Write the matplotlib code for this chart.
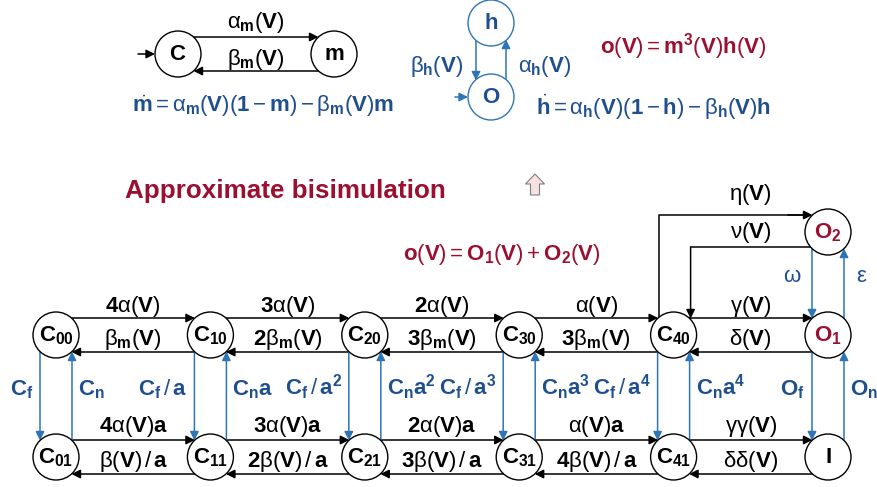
import numpy as np
import matplotlib.pyplot as plt
from matplotlib.patches import Circle, FancyArrow

plt.rcParams['font.family'] = ['Liberation Sans', 'DejaVu Sans']
plt.rcParams['mathtext.fontset'] = 'custom'
plt.rcParams['mathtext.rm'] = 'Liberation Sans'
plt.rcParams['mathtext.it'] = 'Liberation Sans'
plt.rcParams['mathtext.bf'] = 'Liberation Sans:bold'
plt.rcParams['mathtext.sf'] = 'Liberation Sans'

BLUE = '#1f4f8f'      # blue text
LBLUE = '#2e75b6'     # blue arrows
RED = '#9b1030'
FS = 16

# chain states: top row (open m-gates, h open) and bottom row
top_states = [r'$\mathbf{C}_{\mathbf{00}}$', r'$\mathbf{C}_{\mathbf{10}}$', r'$\mathbf{C}_{\mathbf{20}}$',
              r'$\mathbf{C}_{\mathbf{30}}$', r'$\mathbf{C}_{\mathbf{40}}$', r'$\mathbf{O}_{\mathbf{1}}$']
bottom_states = [r'$\mathbf{C}_{\mathbf{01}}$', r'$\mathbf{C}_{\mathbf{11}}$', r'$\mathbf{C}_{\mathbf{21}}$',
                 r'$\mathbf{C}_{\mathbf{31}}$', r'$\mathbf{C}_{\mathbf{41}}$', r'$\mathbf{I}$']
o2_state = r'$\mathbf{O}_{\mathbf{2}}$'

# rates on the horizontal transitions
top_fwd = [r'$\mathbf{4}\alpha(\mathbf{V})$', r'$\mathbf{3}\alpha(\mathbf{V})$', r'$\mathbf{2}\alpha(\mathbf{V})$',
           r'$\alpha(\mathbf{V})$', r'$\gamma(\mathbf{V})$']
top_back = [r'$\beta_{\mathbf{m}}(\mathbf{V})$', r'$\mathbf{2}\beta_{\mathbf{m}}(\mathbf{V})$',
            r'$\mathbf{3}\beta_{\mathbf{m}}(\mathbf{V})$', r'$\mathbf{3}\beta_{\mathbf{m}}(\mathbf{V})$',
            r'$\delta(\mathbf{V})$']
bot_fwd = [r'$\mathbf{4}\alpha(\mathbf{V})\mathbf{a}$', r'$\mathbf{3}\alpha(\mathbf{V})\mathbf{a}$',
           r'$\mathbf{2}\alpha(\mathbf{V})\mathbf{a}$', r'$\alpha(\mathbf{V})\mathbf{a}$', r'$\gamma\gamma(\mathbf{V})$']
bot_back = [r'$\beta(\mathbf{V})\,/\,\mathbf{a}$', r'$\mathbf{2}\beta(\mathbf{V})\,/\,\mathbf{a}$',
            r'$\mathbf{3}\beta(\mathbf{V})\,/\,\mathbf{a}$', r'$\mathbf{4}\beta(\mathbf{V})\,/\,\mathbf{a}$',
            r'$\delta\delta(\mathbf{V})$']

# rates on the vertical transitions
down_lbl = [r'$\mathbf{C}_{\mathbf{f}}$', r'$\mathbf{C}_{\mathbf{f}}\,/\,\mathbf{a}$',
            r'$\mathbf{C}_{\mathbf{f}}\,/\,\mathbf{a}^{\mathbf{2}}$', r'$\mathbf{C}_{\mathbf{f}}\,/\,\mathbf{a}^{\mathbf{3}}$',
            r'$\mathbf{C}_{\mathbf{f}}\,/\,\mathbf{a}^{\mathbf{4}}$', r'$\mathbf{O}_{\mathbf{f}}$']
up_lbl = [r'$\mathbf{C}_{\mathbf{n}}$', r'$\mathbf{C}_{\mathbf{n}}\mathbf{a}$', r'$\mathbf{C}_{\mathbf{n}}\mathbf{a}^{\mathbf{2}}$',
          r'$\mathbf{C}_{\mathbf{n}}\mathbf{a}^{\mathbf{3}}$', r'$\mathbf{C}_{\mathbf{n}}\mathbf{a}^{\mathbf{4}}$',
          r'$\mathbf{O}_{\mathbf{n}}$']

R = 23
X0, DX = 56, 154.4
Y_TOP, Y_BOT, Y_O2 = 335, 457, 232
OFF = 17  # offset of paired arrows from node centre

fig = plt.figure(figsize=(8.77, 4.87), dpi=100)
ax = fig.add_axes([0, 0, 1, 1])
ax.set_xlim(0, 877)
ax.set_ylim(487, 0)
ax.axis('off')


def node(x, y, label, ec='black', tc='black'):
    ax.add_patch(Circle((x, y), R, fc='white', ec=ec, lw=1.0, zorder=3))
    ax.text(x, y + 6, label, ha='center', va='baseline', fontsize=FS, color=tc, zorder=4)


def arrow(x0, y0, x1, y1, color='black'):
    ax.annotate('', xy=(x1, y1), xytext=(x0, y0),
                arrowprops=dict(arrowstyle='-|>', color=color, lw=1.1, mutation_scale=13,
                                shrinkA=0, shrinkB=0))


def label(x, y, s, color='black', ha='center', fs=FS):
    ax.text(x, y, s, ha=ha, va='baseline', fontsize=fs, color=color)


e = np.sqrt(R**2 - OFF**2)
xs = [X0 + i * DX for i in range(len(top_states))]

# horizontal transitions
for i in range(len(top_fwd)):
    xa, xb = xs[i], xs[i + 1]
    xm = (xa + xb) / 2
    arrow(xa + e, Y_TOP - OFF, xb - e, Y_TOP - OFF)
    arrow(xb - e, Y_TOP + OFF, xa + e, Y_TOP + OFF)
    arrow(xa + e, Y_BOT - OFF, xb - e, Y_BOT - OFF)
    arrow(xb - e, Y_BOT + OFF, xa + e, Y_BOT + OFF)
    label(xm, Y_TOP - 23, top_fwd[i])
    label(xm, Y_TOP + 10, top_back[i])
    label(xm, Y_BOT - 25, bot_fwd[i])
    label(xm, Y_BOT + 10, bot_back[i])

# vertical transitions
ev = np.sqrt(R**2 - 16**2)
for i, x in enumerate(xs):
    arrow(x - 16, Y_TOP + ev, x - 16, Y_BOT - ev, LBLUE)
    arrow(x + 16, Y_BOT - ev, x + 16, Y_TOP + ev, LBLUE)
    label(x - 23, 395, down_lbl[i], BLUE, ha='right')
    label(x + 22, 395, up_lbl[i], BLUE, ha='left')

# O1 <-> O2
xo = xs[-1]
arrow(xo - 16, Y_O2 + ev, xo - 16, Y_TOP - ev, LBLUE)
arrow(xo + 16, Y_TOP - ev, xo + 16, Y_O2 + ev, LBLUE)
label(xo - 36, 282, r'$\omega$', BLUE)
label(xo + 34, 282, r'$\varepsilon$', BLUE)

# C40 <-> O2 (routed lines)
x4 = xs[4]
ax.plot([x4 - 15, x4 - 15, xo - R], [Y_TOP - ev, Y_O2 - 17, Y_O2 - 17], color='black', lw=1.1)
arrow(xo - 40, Y_O2 - 17, xo - e, Y_O2 - 17)
ax.plot([xo - e, x4 + 17], [Y_O2 + 15, Y_O2 + 15], color='black', lw=1.1)
arrow(x4 + 17, Y_O2 + 15, x4 + 17, Y_TOP - ev)
label((x4 + xo) / 2, 200, r'$\eta(\mathbf{V})$')
label((x4 + xo) / 2, 238, r'$\nu(\mathbf{V})$')

for i, x in enumerate(xs):
    tc = RED if i == len(xs) - 1 else 'black'
    node(x, Y_TOP, top_states[i], tc=tc)
    node(x, Y_BOT, bottom_states[i])
node(xo, Y_O2, o2_state, tc=RED)

# small m-gate diagram
cx, mx, gy = 178, 334, 54
arrow(cx + e, gy - OFF, mx - e, gy - OFF)
arrow(mx - e, gy + OFF, cx + e, gy + OFF)
arrow(138, gy, cx - R, gy)
node(cx, gy, r'$\mathbf{C}$')
node(mx, gy, r'$\mathbf{m}$')
label((cx + mx) / 2, 28, r'$\alpha_{\mathbf{m}}(\mathbf{V})$')
label((cx + mx) / 2, 65, r'$\beta_{\mathbf{m}}(\mathbf{V})$')
label(263, 112, r'$\dot{\mathbf{m}}=\alpha_{\mathbf{m}}(\mathbf{V})(\mathbf{1}-\mathbf{m})-\beta_{\mathbf{m}}(\mathbf{V})\mathbf{m}$', BLUE)

# small h-gate diagram
hx, hy, oy = 491, 23, 97
arrow(hx - 15, hy + ev, hx - 15, oy - ev, LBLUE)
arrow(hx + 15, oy - ev, hx + 15, hy + ev, LBLUE)
arrow(455, oy, hx - R, oy, LBLUE)
node(hx, hy, r'$\mathbf{h}$', ec=LBLUE, tc=BLUE)
node(hx, oy, r'$\mathbf{O}$', ec=LBLUE, tc=BLUE)
label(437, 72, r'$\beta_{\mathbf{h}}(\mathbf{V})$', BLUE)
label(545, 72, r'$\alpha_{\mathbf{h}}(\mathbf{V})$', BLUE)
label(653, 115, r'$\dot{\mathbf{h}}=\alpha_{\mathbf{h}}(\mathbf{V})(\mathbf{1}-\mathbf{h})-\beta_{\mathbf{h}}(\mathbf{V})\mathbf{h}$', BLUE)
label(683, 53, r'$\mathbf{o}(\mathbf{V})=\mathbf{m}^{\mathbf{3}}(\mathbf{V})\mathbf{h}(\mathbf{V})$', RED)

# bisimulation title, reduction arrow and output
ax.text(125, 198, 'Approximate bisimulation', ha='left', va='baseline', fontsize=18.7,
        fontweight='bold', color=RED)
ax.add_patch(FancyArrow(535, 195, 0, -21, width=9, head_width=19, head_length=10,
                        length_includes_head=True, fc='#f9e1e1', ec='#7f7f7f', lw=0.8))
label(502, 260, r'$\mathbf{o}(\mathbf{V})=\mathbf{O}_{\mathbf{1}}(\mathbf{V})+\mathbf{O}_{\mathbf{2}}(\mathbf{V})$', RED)

fig.savefig('out.png', dpi=100)
